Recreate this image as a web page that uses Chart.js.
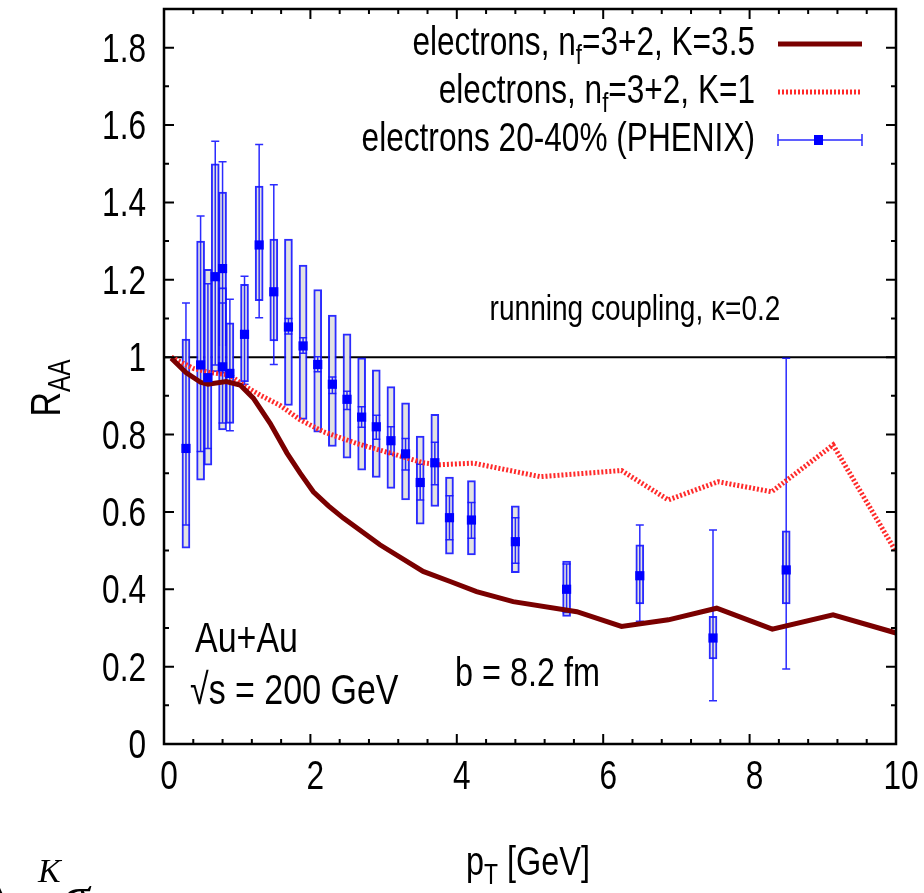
<!DOCTYPE html>
<html>
<head>
<meta charset="utf-8">
<script src="https://cdn.jsdelivr.net/npm/chart.js@4.4.0/dist/chart.umd.min.js"></script>
<style>
  body { margin: 0; background: #fff; }
  #wrap { width: 924px; height: 893px; }
</style>
</head>
<body>
<div id="wrap"><canvas id="raa" width="924" height="893"></canvas></div>
<script>
// theory curves
const ptK35 = [0.1, 0.3, 0.5, 0.6, 0.85, 1.04, 1.22, 1.45, 1.68, 1.86, 2.04, 2.25, 2.45, 2.95, 3.54, 3.91, 4.27, 4.77, 5.64, 6.25, 6.89, 7.55, 8.31, 9.14, 10];
const raaK35 = [0.997, 0.96, 0.935, 0.93, 0.937, 0.928, 0.894, 0.829, 0.752, 0.70, 0.652, 0.615, 0.584, 0.515, 0.446, 0.42, 0.394, 0.368, 0.342, 0.304, 0.321, 0.351, 0.297, 0.334, 0.287];
const ptK1 = [0.1, 0.4, 0.63, 0.9, 1.08, 1.31, 1.58, 1.86, 2.18, 2.63, 3.09, 3.54, 3.77, 4.23, 5.14, 6.25, 6.89, 7.57, 8.30, 9.14, 10];
const raaK1 = [1.0, 0.971, 0.96, 0.954, 0.928, 0.902, 0.876, 0.838, 0.807, 0.777, 0.752, 0.727, 0.722, 0.726, 0.691, 0.707, 0.631, 0.678, 0.652, 0.773, 0.497];

// PHENIX electrons 20-40%
const ptData  = [0.3, 0.5, 0.6, 0.7, 0.8, 0.8, 0.9, 1.1, 1.3, 1.5, 1.7, 1.9, 2.1, 2.3, 2.5, 2.7, 2.9, 3.1, 3.3, 3.5, 3.7, 3.9, 4.2, 4.8, 5.5, 6.5, 7.5, 8.5];
const raaData = [0.764, 0.98, 0.947, 1.208, 1.229, 0.975, 0.958, 1.059, 1.29, 1.169, 1.078, 1.029, 0.981, 0.930, 0.891, 0.845, 0.820, 0.784, 0.750, 0.676, 0.727, 0.585, 0.579, 0.523, 0.400, 0.435, 0.274, 0.450];
const statLo  = [0.566, 0.756, 0.764, 0.98, 0.96, 0.83, 0.81, 0.93, 1.102, 0.981, 1.06, 1.01, 0.962, 0.906, 0.865, 0.819, 0.788, 0.749, 0.708, 0.631, 0.670, 0.528, 0.532, 0.467, 0.34, 0.317, 0.112, 0.194];
const statHi  = [1.14, 1.365, 1.19, 1.558, 1.505, 1.14, 1.15, 1.209, 1.55, 1.446, 1.10, 1.05, 1.001, 0.949, 0.912, 0.872, 0.850, 0.820, 0.790, 0.723, 0.780, 0.642, 0.624, 0.585, 0.465, 0.566, 0.553, 0.997];
const sysLo   = [0.506, 0.682, 0.721, 0.962, 1.03, 0.812, 0.829, 0.936, 1.146, 1.042, 0.875, 0.839, 0.806, 0.769, 0.739, 0.708, 0.689, 0.661, 0.631, 0.568, 0.614, 0.491, 0.489, 0.443, 0.330, 0.362, 0.220, 0.362];
const sysHi   = [1.047, 1.30, 1.227, 1.50, 1.427, 1.18, 1.089, 1.188, 1.442, 1.305, 1.305, 1.238, 1.175, 1.109, 1.06, 0.998, 0.967, 0.924, 0.882, 0.796, 0.852, 0.690, 0.681, 0.616, 0.473, 0.515, 0.330, 0.551];

const xTicks = [0, 2, 4, 6, 8, 10];
const xTickLabels = ['0', '2', '4', '6', '8', '10'];
const yTicks = [0, 0.2, 0.4, 0.6, 0.8, 1, 1.2, 1.4, 1.6, 1.8];
const yTickLabels = ['0', '0.2', '0.4', '0.6', '0.8', '1', '1.2', '1.4', '1.6', '1.8'];

const FONT = "'Liberation Sans', Arial, sans-serif";
const SQUEEZE = 0.79;
const BLUE = 'rgba(20,20,255,0.9)';

// draw a run of text pieces [{t, size, dy}] squeezed horizontally
function richText(ctx, parts, x, y, align) {
  ctx.save();
  let w = 0;
  parts.forEach(p => { ctx.font = p.size + 'px ' + FONT; w += ctx.measureText(p.t).width; });
  ctx.translate(x, y);
  ctx.scale(SQUEEZE, 1);
  let cx = align === 'right' ? -w : align === 'center' ? -w / 2 : 0;
  ctx.textBaseline = 'alphabetic';
  ctx.textAlign = 'left';
  ctx.fillStyle = '#000';
  parts.forEach(p => {
    ctx.font = p.size + 'px ' + FONT;
    ctx.fillText(p.t, cx, p.dy || 0);
    cx += ctx.measureText(p.t).width;
  });
  ctx.restore();
}

const errorBars = {
  id: 'errorBars',
  afterDatasetDraw(chart, args) {
    if (args.index !== 3) return;
    const { ctx, scales: { x, y } } = chart;
    ctx.save();
    ctx.strokeStyle = BLUE;
    ctx.lineWidth = 1.5;
    ptData.forEach((p, i) => {
      const px = x.getPixelForValue(p);
      const top = y.getPixelForValue(statHi[i]);
      const bot = y.getPixelForValue(statLo[i]);
      ctx.beginPath();
      ctx.moveTo(px, top); ctx.lineTo(px, bot);
      ctx.moveTo(px - 4, top); ctx.lineTo(px + 4, top);
      ctx.moveTo(px - 4, bot); ctx.lineTo(px + 4, bot);
      ctx.stroke();
    });
    ctx.restore();
  }
};

const frame = {
  id: 'frame',
  afterDraw(chart) {
    const { ctx, chartArea: a, scales: { x, y } } = chart;
    ctx.save();
    ctx.strokeStyle = '#000';
    ctx.lineWidth = 2.5;
    ctx.strokeRect(a.left, a.top, a.right - a.left, a.bottom - a.top);
    ctx.lineWidth = 2;
    ctx.beginPath();
    for (let v = 0; v <= 10.001; v += 0.4) {
      const px = x.getPixelForValue(v);
      const len = xTicks.some(t => Math.abs(t - v) < 1e-6) ? 10 : 5;
      ctx.moveTo(px, a.bottom); ctx.lineTo(px, a.bottom - len);
      ctx.moveTo(px, a.top); ctx.lineTo(px, a.top + len);
    }
    for (let v = 0; v <= 1.9001; v += 0.1) {
      const py = y.getPixelForValue(v);
      const len = yTicks.some(t => Math.abs(t - v) < 1e-6) ? 10 : 5;
      ctx.moveTo(a.left, py); ctx.lineTo(a.left + len, py);
      ctx.moveTo(a.right, py); ctx.lineTo(a.right - len, py);
    }
    ctx.stroke();
    ctx.restore();

    // tick labels
    yTicks.forEach((v, i) => {
      richText(ctx, [{ t: yTickLabels[i], size: 40 }], a.left - 18, y.getPixelForValue(v) + 14, 'right');
    });
    xTicks.forEach((v, i) => {
      richText(ctx, [{ t: xTickLabels[i], size: 40 }], x.getPixelForValue(v) + 5, a.bottom + 45, 'center');
    });

    // axis titles
    richText(ctx, [{ t: 'p', size: 41 }, { t: 'T', size: 29, dy: 9 }, { t: ' [GeV]', size: 41 }], 528, 875, 'center');
    ctx.save();
    ctx.translate(60, 388);
    ctx.rotate(-Math.PI / 2);
    richText(ctx, [{ t: 'R', size: 43 }, { t: 'AA', size: 31, dy: 10 }], 0, 0, 'center');
    ctx.restore();

    // legend
    const lx1 = 778, lx2 = 862;
    richText(ctx, [{ t: 'electrons, n', size: 40 }, { t: 'f', size: 28, dy: 9 }, { t: '=3+2, K=3.5', size: 40 }], 755, 55, 'right');
    richText(ctx, [{ t: 'electrons, n', size: 40 }, { t: 'f', size: 28, dy: 9 }, { t: '=3+2, K=1', size: 40 }], 755, 103, 'right');
    richText(ctx, [{ t: 'electrons 20-40% (PHENIX)', size: 40 }], 755, 151, 'right');
    ctx.save();
    ctx.lineWidth = 5;
    ctx.strokeStyle = '#7a0000';
    ctx.beginPath(); ctx.moveTo(lx1, 44); ctx.lineTo(lx2, 44); ctx.stroke();
    ctx.strokeStyle = '#ff2a2a';
    ctx.setLineDash([2, 2]);
    ctx.beginPath(); ctx.moveTo(lx1, 92); ctx.lineTo(lx2, 92); ctx.stroke();
    ctx.setLineDash([]);
    ctx.lineWidth = 1.5;
    ctx.strokeStyle = BLUE;
    ctx.beginPath();
    ctx.moveTo(lx1, 140); ctx.lineTo(lx2, 140);
    ctx.moveTo(lx1, 134); ctx.lineTo(lx1, 146);
    ctx.moveTo(lx2, 134); ctx.lineTo(lx2, 146);
    ctx.stroke();
    ctx.fillStyle = '#0000ff';
    ctx.fillRect(814, 135, 9, 10);
    ctx.restore();

    // annotations
    richText(ctx, [{ t: 'running coupling, \u03ba=0.2', size: 35.5 }], 635, 320, 'center');
    richText(ctx, [{ t: 'Au+Au', size: 43 }], 195, 652, 'left');
    richText(ctx, [{ t: '\u221as = 200 GeV', size: 43 }], 190, 704, 'left');
    richText(ctx, [{ t: 'b = 8.2 fm', size: 41 }], 455, 686, 'left');

    // fragment of the page below the figure
    ctx.save();
    ctx.fillStyle = '#000';
    ctx.font = "bold 60px 'DejaVu Sans', sans-serif";
    ctx.fillText('\u232A', -16, 912);
    ctx.font = "italic 34px 'Liberation Serif', serif";
    ctx.fillText('K', 38, 882);
    ctx.font = "italic 56px 'Liberation Serif', serif";
    ctx.fillText('\u03c3', 62, 915);
    ctx.restore();
  }
};

const pts = (xs, ys) => xs.map((v, i) => ({ x: v, y: ys[i] }));

new Chart(document.getElementById('raa'), {
  type: 'scatter',
  data: {
    datasets: [
      { type: 'line', label: 'electrons, nf=3+2, K=3.5', data: pts(ptK35, raaK35), borderColor: '#7a0000', borderWidth: 5, pointRadius: 0, tension: 0, order: 1 },
      { type: 'line', label: 'electrons, nf=3+2, K=1', data: pts(ptK1, raaK1), borderColor: '#ff2a2a', borderWidth: 5, borderDash: [2, 2], pointRadius: 0, tension: 0, order: 1 },
      { type: 'line', label: 'unity', data: pts([0, 10], [1, 1]), borderColor: '#000', borderWidth: 2, pointRadius: 0, order: 3 },
      { type: 'bar', label: 'sys', data: ptData.map((p, i) => ({ x: p, y: [sysLo[i], sysHi[i]] })), backgroundColor: '#e2e2e2', borderColor: BLUE, borderWidth: 2, borderSkipped: false, barThickness: 8, order: 2 },
      { type: 'scatter', label: 'electrons 20-40% (PHENIX)', data: pts(ptData, raaData), pointStyle: 'rect', pointRadius: 6.5, backgroundColor: '#0000ff', borderWidth: 0, order: 0 }
    ]
  },
  options: {
    responsive: false,
    animation: false,
    layout: { padding: { left: 164, right: 28, top: 9, bottom: 149 } },
    plugins: { legend: { display: false }, tooltip: { enabled: false } },
    scales: {
      x: { type: 'linear', min: 0, max: 10, offset: false, ticks: { display: false }, grid: { display: false, drawTicks: false }, border: { display: false } },
      y: { type: 'linear', min: 0, max: 1.9, ticks: { display: false }, grid: { display: false, drawTicks: false }, border: { display: false } }
    }
  },
  plugins: [errorBars, frame]
});
</script>
</body>
</html>
